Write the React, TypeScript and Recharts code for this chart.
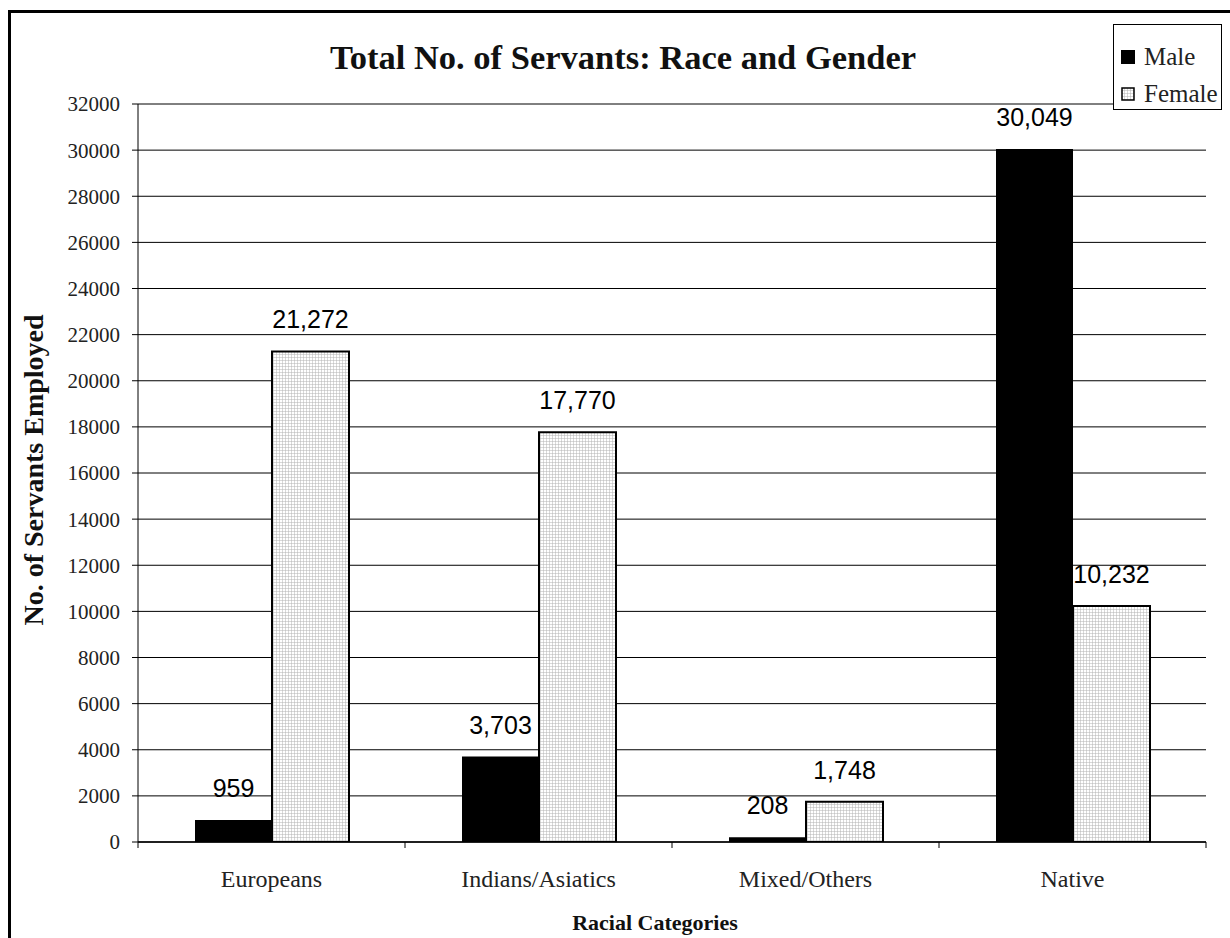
import React from 'react';
import {
  ComposedChart,
  Bar,
  XAxis,
  YAxis,
  CartesianGrid,
  Legend,
  LabelList
} from 'recharts';

const categories = ['Europeans', 'Indians/Asiatics', 'Mixed/Others', 'Native'];
const maleValues = [959, 3703, 208, 30049];
const femaleValues = [21272, 17770, 1748, 10232];
const yTicks = [0, 2000, 4000, 6000, 8000, 10000, 12000, 14000, 16000, 18000, 20000, 22000, 24000, 26000, 28000, 30000, 32000];
const seriesOrder = ['male', 'female'];

const data = categories.map((name, i) => ({
  name,
  male: maleValues[i],
  female: femaleValues[i]
}));

const W = 1230;
const H = 938;
const margin = { top: 104, right: 24, left: 38, bottom: 56 };
const Y_AXIS_W = 100;
const plotWidth = W - margin.left - Y_AXIS_W - margin.right;
const halfBand = plotWidth / categories.length / 2;

const serif = '"Liberation Serif", "Times New Roman", serif';
const sans = '"Liberation Sans", Arial, sans-serif';

const fmt = (v: number) => Number(v).toLocaleString('en-US');

// category label plus the boundary tick marks either side of it
const CategoryTick = (props: any) => {
  const { x, y, payload, index } = props;
  return (
    <g>
      {index === 0 && (
        <line x1={x - halfBand} y1={y} x2={x - halfBand} y2={y + 6} stroke="#000" />
      )}
      <line x1={x + halfBand} y1={y} x2={x + halfBand} y2={y + 6} stroke="#000" />
      <text x={x} y={y + 45} textAnchor="middle" fontFamily={serif} fontSize={24} fill="#222">
        {payload.value}
      </text>
    </g>
  );
};

const LegendBox = (props: any) => {
  const items = [...(props.payload || [])].sort(
    (a: any, b: any) => seriesOrder.indexOf(a.dataKey) - seriesOrder.indexOf(b.dataKey)
  );
  return (
    <div
      style={{
        boxSizing: 'border-box',
        width: 109,
        height: 86,
        border: '1px solid #000',
        background: '#fff',
        padding: '13px 0 0 7px',
        fontFamily: serif,
        fontSize: 25,
        color: '#222'
      }}
    >
      {items.map((entry: any) => (
        <div key={entry.value} style={{ display: 'flex', alignItems: 'center', height: 37 }}>
          <svg width={14} height={14} style={{ marginRight: 9 }}>
            {entry.dataKey === 'male' ? (
              <rect x={0} y={0} width={14} height={14} fill="#000" />
            ) : (
              <rect x={1} y={1} width={12} height={12} fill="url(#femaleGrid)" stroke="#000" strokeWidth={1.5} />
            )}
          </svg>
          <span>{entry.value}</span>
        </div>
      ))}
    </div>
  );
};

export default function App() {
  return (
    <div style={{ position: 'fixed', left: 0, top: 0, width: W, height: H, overflow: 'hidden', background: '#fff' }}>
      <div
        style={{
          position: 'absolute',
          left: 8,
          top: 10,
          width: 1400,
          height: 1100,
          border: '3px solid #000'
        }}
      />
      <ComposedChart width={W} height={H} data={data} margin={margin} barGap={0} barSize={77}>
        <defs>
          <pattern id="femaleGrid" width={3} height={3} patternUnits="userSpaceOnUse">
            <rect width={3} height={3} fill="#fff" />
            <path d="M 3 0 L 0 0 0 3" fill="none" stroke="#b4b4b4" strokeWidth={1} />
          </pattern>
        </defs>
        <text x={623} y={69} textAnchor="middle" fontFamily={serif} fontSize={34.5} fontWeight="bold" fill="#111">
          Total No. of Servants: Race and Gender
        </text>
        <text
          x={43}
          y={470}
          transform="rotate(-90, 43, 470)"
          textAnchor="middle"
          fontFamily={serif}
          fontSize={28}
          fontWeight="bold"
          fill="#111"
        >
          No. of Servants Employed
        </text>
        <text x={655} y={930} textAnchor="middle" fontFamily={serif} fontSize={22} fontWeight="bold" fill="#111">
          Racial Categories
        </text>
        <CartesianGrid vertical={false} stroke="#000" />
        <XAxis
          dataKey="name"
          tickLine={false}
          tickSize={0}
          tickMargin={0}
          axisLine={{ stroke: '#000', strokeWidth: 1.5 }}
          tick={<CategoryTick />}
          height={40}
          interval={0}
        />
        <YAxis
          domain={[0, 32000]}
          ticks={yTicks}
          width={Y_AXIS_W}
          tickSize={6}
          tickMargin={12}
          tickLine={{ stroke: '#000' }}
          axisLine={{ stroke: '#000' }}
          tick={{ fill: '#222', fontFamily: serif, fontSize: 21 }}
          allowDataOverflow
        />
        <Legend
          layout="vertical"
          align="center"
          verticalAlign="middle"
          content={<LegendBox />}
          wrapperStyle={{ top: 24, left: 1113, width: 109, height: 86 }}
        />
        <Bar dataKey="male" name="Male" fill="#000" isAnimationActive={false}>
          <LabelList dataKey="male" position="top" offset={23} formatter={fmt} fill="#000" fontSize={25} fontFamily={sans} />
        </Bar>
        <Bar dataKey="female" name="Female" fill="url(#femaleGrid)" stroke="#000" strokeWidth={2} isAnimationActive={false}>
          <LabelList dataKey="female" position="top" offset={23} formatter={fmt} fill="#000" fontSize={25} fontFamily={sans} />
        </Bar>
      </ComposedChart>
    </div>
  );
}
